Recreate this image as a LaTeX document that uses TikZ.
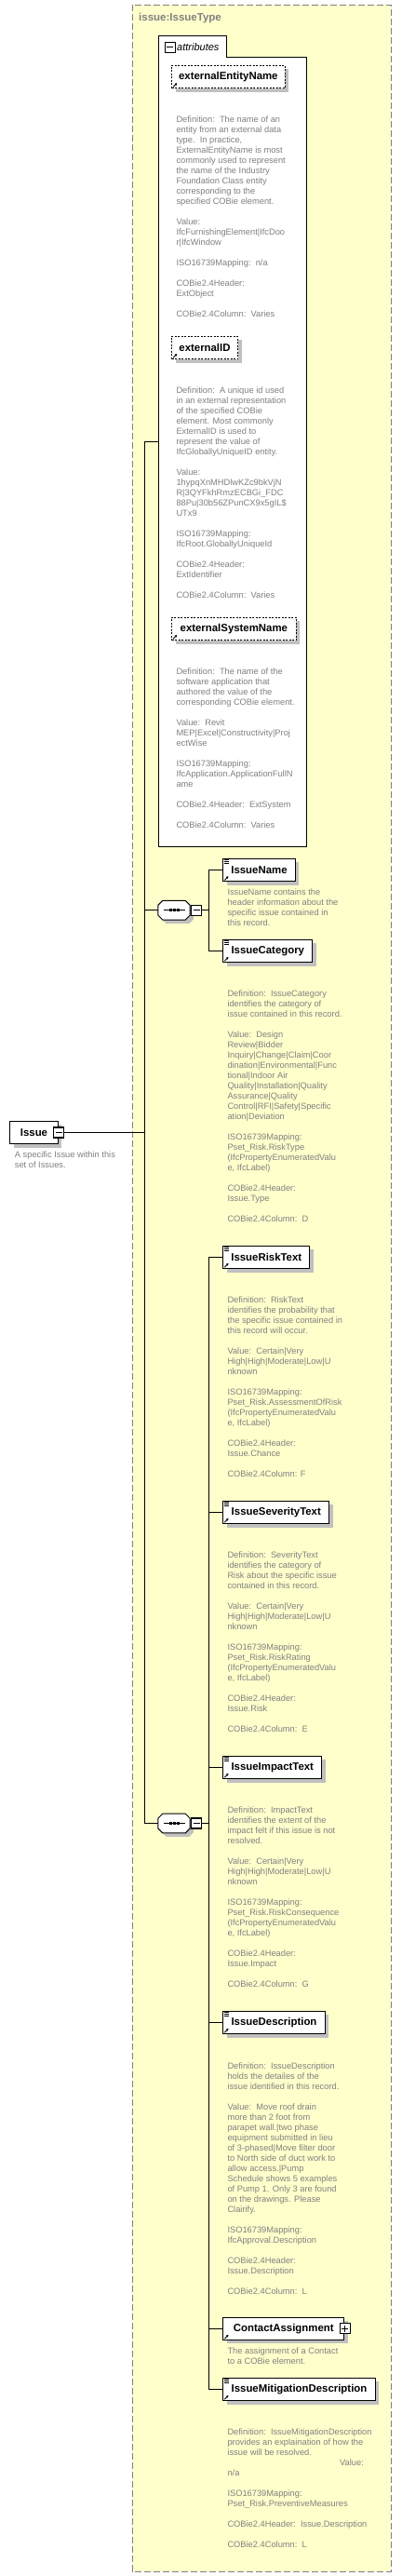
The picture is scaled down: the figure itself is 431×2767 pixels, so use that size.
\documentclass[tikz,border=0pt]{standalone}
\usepackage{fontspec}
\setmainfont{Liberation Sans}
\usetikzlibrary{shadows, arrows.meta}

\definecolor{typefill}{RGB}{255,255,204}
\definecolor{boxshadow}{RGB}{192,192,192}
\definecolor{descgray}{RGB}{128,128,128}

\tikzset{
  elem/.style={draw, fill=white, line width=1pt, minimum width=#1, minimum height=24.4pt,
    inner sep=0pt, anchor=west, font=\fontsize{11.4}{13}\selectfont\bfseries,
    drop shadow={shadow xshift=4pt, shadow yshift=-4pt, fill=boxshadow, opacity=1}},
  attr/.style={elem=#1, dash pattern=on 2pt off 1.5pt},
  desc/.style={anchor=north west, inner sep=0pt, align=left, text=descgray,
    font=\fontsize{9.3}{11}\selectfont},
  wire/.style={line width=1pt},
  pmbox/.style={draw, fill=white, line width=1.2pt, minimum size=11pt, inner sep=0pt},
  minus/.style={pmbox, path picture={\draw[line width=1pt]
      ([xshift=2pt]path picture bounding box.west) -- ([xshift=-2pt]path picture bounding box.east);}},
  plus/.style={pmbox, path picture={\draw[line width=1pt]
      ([xshift=2pt]path picture bounding box.west) -- ([xshift=-2pt]path picture bounding box.east)
      ([yshift=-2pt]path picture bounding box.north) -- ([yshift=2pt]path picture bounding box.south);}},
  seqnode/.style={minimum width=34pt, minimum height=20.3pt, inner sep=0pt},
  seqbox/.style={draw, fill=white, line width=1pt,
    drop shadow={shadow xshift=4pt, shadow yshift=-4pt, fill=boxshadow, opacity=1}},
}

% small arrow in the lower left corner of a box
\newcommand\reficon[1]{%
  \draw[line width=0.9pt, -{Triangle[length=2.4pt, width=2.6pt]}]
    ([shift={(2,-1.8)}]#1.south west) -- ++(4.2,-4.2);}
% three lines in the upper left corner of a box
\newcommand\texticon[1]{%
  \foreach \dy in {1.9,3.6,5.3}
    \draw[line width=0.7pt] ([shift={(1.7,\dy)}]#1.north west) -- ++(5.2,0);}
% sequence compositor
\newcommand\seqpath[1]{%
  \draw[seqbox] ([shift={(5,0)}]#1.north west) -- ([shift={(-5,0)}]#1.north east)
    -- ([shift={(0,5)}]#1.north east) -- ([shift={(0,-5)}]#1.south east)
    -- ([shift={(-5,0)}]#1.south east) -- ([shift={(5,0)}]#1.south west)
    -- ([shift={(0,-5)}]#1.south west) -- ([shift={(0,5)}]#1.north west) -- cycle;
  \draw[line width=1pt] ([shift={(5.7,0)}]#1.west) -- ([shift={(-5,0)}]#1.east);
  \foreach \dx in {-3.7,0.5,4.5}
    \fill ([shift={(\dx-1.65,-1.65)}]#1.center) rectangle ++(3.3,3.3);}

\begin{document}
\begin{tikzpicture}[x=1pt, y=-1pt]
\useasboundingbox (0,0) rectangle (431,2767);
% complex type frame
\draw[draw=descgray, fill=typefill, line width=1pt, dash pattern=on 7pt off 3pt] (142,5.3) rectangle (420.3,2762);
\node[anchor=base west, inner sep=0pt, text=descgray, font=\fontsize{11.5}{13}\selectfont\bfseries] (typename) at (149,23) {issue:IssueType};

% attributes
\draw[fill=white, line width=1pt] (170,909) -- (170,38.3) -- (243.3,38.3) -- (243.3,61.7) -- (329.7,61.7) -- (329.7,909) -- cycle;
\node[minus] (attrm) at (182.8,50.7) {};
\node[anchor=base west, inner sep=0pt, font=\fontsize{11}{13}\selectfont\itshape] (attrlabel) at (190,55) {attributes};

\node[attr=121.7pt] (extentity) at (184,82.5) {externalEntityName};
\reficon{extentity}
\node[desc] (extentitydoc) at (189.3,124.9) {Definition:\ \ The name of an\\
entity from an external data\\
type.\ \ In practice,\\
ExternalEntityName is most\\
commonly used to represent\\
the name of the Industry\\
Foundation Class entity\\
corresponding to the\\
specified COBie element.\\[11pt]
Value:\\
IfcFurnishingElement|IfcDoo\\
r|IfcWindow\\[11pt]
ISO16739Mapping:\ \ n/a\\[11pt]
COBie2.4Header:\\
ExtObject\\[11pt]
COBie2.4Column:\ \ Varies};

\node[attr=71pt] (extid) at (184,373.3) {externalID};
\reficon{extid}
\node[desc] (extiddoc) at (189.3,415.5) {Definition:\ \ A unique id used\\
in an external representation\\
of the specified COBie\\
element. Most commonly\\
ExternalID is used to\\
represent the value of\\
IfcGloballyUniqueID entity.\\[11pt]
Value:\\
1hypqXnMHDlwKZc9bkVjN\\
R|3QYFkhRmzECBGi\_FDC\\
88Pu|30b56ZPunCX9x5gIL\$\\
UTx9\\[11pt]
ISO16739Mapping:\\
IfcRoot.GloballyUniqueId\\[11pt]
COBie2.4Header:\\
ExtIdentifier\\[11pt]
COBie2.4Column:\ \ Varies};

\node[attr=133.7pt] (extsystem) at (184,675.3) {externalSystemName};
\reficon{extsystem}
\node[desc] (extsystemdoc) at (189.3,717.9) {Definition:\ \ The name of the\\
software application that\\
authored the value of the\\
corresponding COBie element.\\[11pt]
Value:\ \ Revit\\
MEP|Excel|Constructivity|Proj\\
ectWise\\[11pt]
ISO16739Mapping:\\
IfcApplication.ApplicationFullN\\
ame\\[11pt]
COBie2.4Header:\ \ ExtSystem\\[11pt]
COBie2.4Column:\ \ Varies};

% the element
\node[elem=51.4pt] (issue) at (10.3,1216.5) {Issue};
\node[minus] (issuem) at ([xshift=0.5pt]issue.east) {};
\node[desc] (issuedoc) at (15.7,1236.9) {A specific Issue within this\\
set of Issues.};

% first sequence
\node[seqnode] (seq1) at (187,977.7) {};
\seqpath{seq1}
\node[minus, anchor=west] (seq1m) at ([xshift=0.7pt]seq1.east) {};

\node[elem=77.4pt] (name) at (239.3,934.5) {IssueName};
\texticon{name}
\reficon{name}
\node[desc] (namedoc) at (244.3,954.9) {IssueName contains the\\
header information about the\\
specific issue contained in\\
this record.};

\node[elem=96pt] (category) at (239.3,1021.3) {IssueCategory};
\texticon{category}
\reficon{category}
\node[desc] (categorydoc) at (244.3,1063.9) {Definition:\ \ IssueCategory\\
identifies the category of\\
issue contained in this record.\\[11pt]
Value:\ \ Design\\
Review|Bidder\\
Inquiry|Change|Claim|Coor\\
dination|Environmental|Func\\
tional|Indoor Air\\
Quality|Installation|Quality\\
Assurance|Quality\\
Control|RFI|Safety|Specific\\
ation|Deviation\\[11pt]
ISO16739Mapping:\\
Pset\_Risk.RiskType\\
(IfcPropertyEnumeratedValu\\
e, IfcLabel)\\[11pt]
COBie2.4Header:\\
Issue.Type\\[11pt]
COBie2.4Column:\ \ D};

% second sequence
\node[seqnode] (seq2) at (187,1958.5) {};
\seqpath{seq2}
\node[minus, anchor=west] (seq2m) at ([xshift=0.7pt]seq2.east) {};

\node[elem=93pt] (risktext) at (239.3,1350.3) {IssueRiskText};
\texticon{risktext}
\reficon{risktext}
\node[desc] (risktextdoc) at (244.3,1392.9) {Definition:\ \ RiskText\\
identifies the probability that\\
the specific issue contained in\\
this record will occur.\\[11pt]
Value:\ \ Certain|Very\\
High|High|Moderate|Low|U\\
nknown\\[11pt]
ISO16739Mapping:\\
Pset\_Risk.AssessmentOfRisk\\
(IfcPropertyEnumeratedValu\\
e, IfcLabel)\\[11pt]
COBie2.4Header:\\
Issue.Chance\\[11pt]
COBie2.4Column: F};

\node[elem=114pt] (severity) at (239.3,1624.3) {IssueSeverityText};
\texticon{severity}
\reficon{severity}
\node[desc] (severitydoc) at (244.3,1666.9) {Definition:\ \ SeverityText\\
identifies the category of\\
Risk about the specific issue\\
contained in this record.\\[11pt]
Value:\ \ Certain|Very\\
High|High|Moderate|Low|U\\
nknown\\[11pt]
ISO16739Mapping:\\
Pset\_Risk.RiskRating\\
(IfcPropertyEnumeratedValu\\
e, IfcLabel)\\[11pt]
COBie2.4Header:\\
Issue.Risk\\[11pt]
COBie2.4Column:\ \ E};

\node[elem=106pt] (impact) at (239.3,1898.3) {IssueImpactText};
\texticon{impact}
\reficon{impact}
\node[desc] (impactdoc) at (244.3,1940.9) {Definition:\ \ ImpactText\\
identifies the extent of the\\
impact felt if this issue is not\\
resolved.\\[11pt]
Value:\ \ Certain|Very\\
High|High|Moderate|Low|U\\
nknown\\[11pt]
ISO16739Mapping:\\
Pset\_Risk.RiskConsequence\\
(IfcPropertyEnumeratedValu\\
e, IfcLabel)\\[11pt]
COBie2.4Header:\\
Issue.Impact\\[11pt]
COBie2.4Column:\ \ G};

\node[elem=109.4pt] (description) at (239.3,2172.3) {IssueDescription};
\texticon{description}
\reficon{description}
\node[desc] (descriptiondoc) at (244.3,2215.2) {Definition:\ \ IssueDescription\\
holds the detailes of the\\
issue identified in this record.\\[11pt]
Value:\ \ Move roof drain\\
more than 2 foot from\\
parapet wall.|two phase\\
equipment submitted in lieu\\
of 3-phased|Move filter door\\
to North side of duct work to\\
allow access.|Pump\\
Schedule shows 5 examples\\
of Pump 1. Only 3 are found\\
on the drawings. Please\\
Clairify.\\[11pt]
ISO16739Mapping:\\
IfcApproval.Description\\[11pt]
COBie2.4Header:\\
Issue.Description\\[11pt]
COBie2.4Column:\ \ L};

\node[elem=130pt] (contact) at (239.3,2501.2) {ContactAssignment};
\reficon{contact}
\node[plus] (contactp) at ([xshift=0.5pt]contact.east) {};
\node[desc] (contactdoc) at (244.3,2521.9) {The assignment of a Contact\\
to a COBie element.};

\node[elem=163.4pt] (mitigation) at (239.3,2566.3) {IssueMitigationDescription};
\texticon{mitigation}
\reficon{mitigation}
\node[desc] (mitigationdoc) at (244.3,2608.9) {Definition:\ \ IssueMitigationDescription\\
provides an explaination of how the\\
issue will be resolved.\\
\hspace*{120.7pt}Value:\\
n/a\\[11pt]
ISO16739Mapping:\\
Pset\_Risk.PreventiveMeasures\\[11pt]
COBie2.4Header:\ \ Issue.Description\\[11pt]
COBie2.4Column:\ \ L};

% connectors
\coordinate (attrin) at (170,474.3);
\coordinate (grptop) at (155.7,474.3);
\coordinate (grpbot) at (155.7,1958.5);
\draw[wire] (attrin) -- (grptop) -- (grpbot) -- (seq2.west);
\draw[wire] (grptop |- seq1.west) -- (seq1.west);
\draw[wire] (issuem.east) -- (grptop |- issuem.east);
\coordinate (bus1) at (224.7,977.7);
\draw[wire] (seq1m.east) -- (bus1);
\draw[wire] (name.west) -| (bus1) |- (category.west);
\coordinate (bus2) at (224.7,1958.5);
\draw[wire] (seq2m.east) -- (bus2);
\draw[wire] (risktext.west) -| (bus2) |- (mitigation.west);
\foreach \el in {severity, impact, description, contact}
  \draw[wire] (\el.west) -- (bus2 |- \el.west);
\end{tikzpicture}
\end{document}
